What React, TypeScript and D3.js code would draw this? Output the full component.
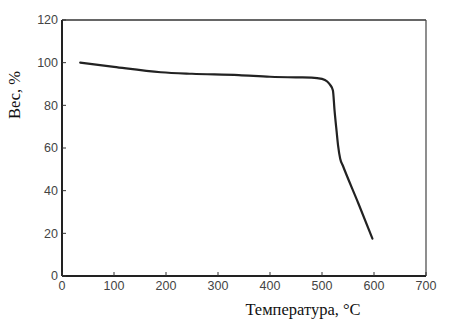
import React from "react";
import * as d3 from "d3";

const xTicks = [0, 100, 200, 300, 400, 500, 600, 700];
const yTicks = [0, 20, 40, 60, 80, 100, 120];
const temperature = [35, 100, 190, 250, 340, 400, 450, 480, 500, 510, 516, 521, 524, 528, 531, 535, 540, 570, 597];
const weight = [100, 98, 95.5, 94.8, 94.2, 93.4, 93.1, 93, 92.4, 91.2, 89.5, 87, 78, 68, 61, 55, 51.8, 34, 17.5];
const xTitle = "Температура, °C";
const yTitle = "Вес, %";

export default function App() {
  const W = 455, H = 329;
  const m = { left: 62, top: 20, right: 426, bottom: 276 };
  const x = d3.scaleLinear().domain([0, 700]).range([m.left, m.right]);
  const y = d3.scaleLinear().domain([0, 120]).range([m.bottom, m.top]);
  const pts = temperature.map((t, i) => [t, weight[i]] as [number, number]);
  const line = d3.line<[number, number]>().x(d => x(d[0])).y(d => y(d[1])).curve(d3.curveMonotoneX);
  const tickFont = "Liberation Sans, Arial, sans-serif";
  return (
    <svg width={W} height={H} style={{ position: "absolute", left: 0, top: 0, background: "#fff" }}>
      <rect x={0} y={0} width={W} height={H} fill="#fff" />
      <line x1={m.left} x2={m.right} y1={m.top} y2={m.top} stroke="#333" strokeWidth={1.5} />
      <line x1={m.right} x2={m.right} y1={m.top} y2={m.bottom} stroke="#444" strokeWidth={1.2} />
      <line x1={m.left} x2={m.left} y1={m.top} y2={m.bottom} stroke="#222" strokeWidth={2} />
      <line x1={m.left} x2={m.right} y1={m.bottom} y2={m.bottom} stroke="#222" strokeWidth={2} />
      {yTicks.map(t => (
        <g key={"y" + t}>
          <line x1={m.left} x2={m.left + 4} y1={y(t)} y2={y(t)} stroke="#333" strokeWidth={1} />
          <text x={m.left - 4} y={y(t)} dy="0.35em" textAnchor="end" fontFamily={tickFont} fontSize={12.5} fill="#444">{t}</text>
        </g>
      ))}
      {xTicks.map(t => (
        <g key={"x" + t}>
          <line x1={x(t)} x2={x(t)} y1={m.bottom} y2={m.bottom - 4} stroke="#333" strokeWidth={1} />
          <text x={x(t)} y={m.bottom + 14} textAnchor="middle" fontFamily={tickFont} fontSize={12.5} fill="#444">{t}</text>
        </g>
      ))}
      <path d={line(pts) || ""} fill="none" stroke="#222" strokeWidth={2.2} strokeLinejoin="round" strokeLinecap="round" />
      <text x={303} y={315} textAnchor="middle" fontFamily="Liberation Serif, Times New Roman, serif" fontSize={16.5} fill="#111">{xTitle}</text>
      <text transform="translate(20,95) rotate(-90)" textAnchor="middle" fontFamily="Liberation Serif, Times New Roman, serif" fontSize={16.5} fill="#111">{yTitle}</text>
    </svg>
  );
}
